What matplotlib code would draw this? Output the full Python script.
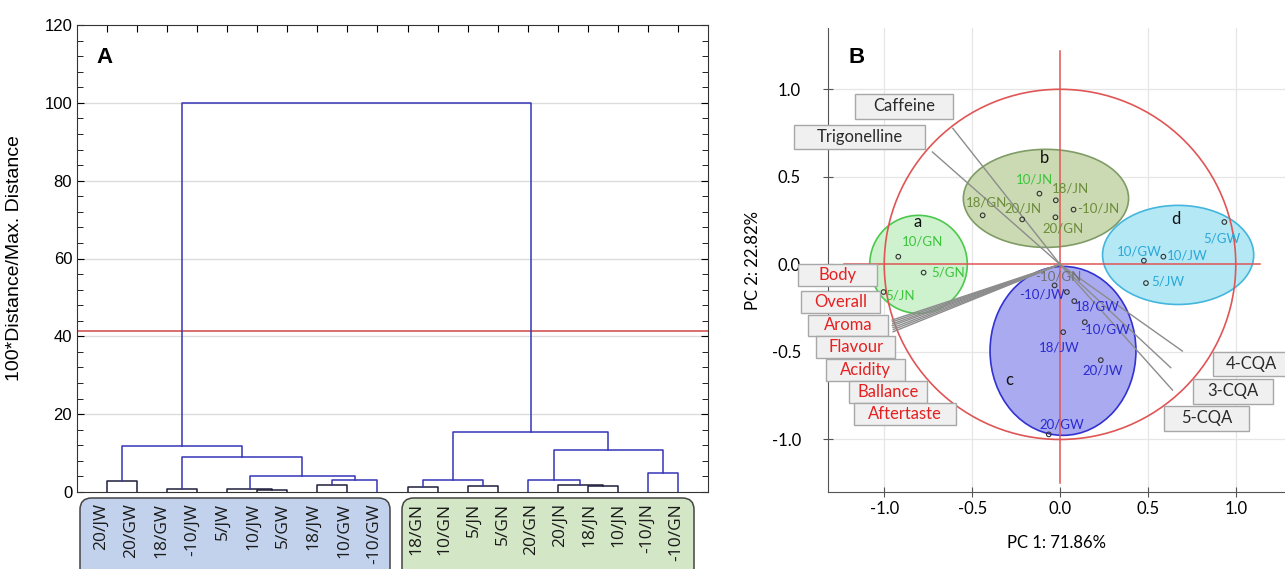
import matplotlib
matplotlib.use("Agg")
import matplotlib.pyplot as plt
from matplotlib.patches import Ellipse, Circle, Rectangle, FancyBboxPatch
import matplotlib.transforms as mtransforms
import numpy as np

# ---------------- data: panel A (dendrogram) ----------------
leaf_labels = ["20/JW", "20/GW", "18/GW", "-10/JW", "5/JW", "10/JW", "5/GW", "18/JW", "10/GW", "-10/GW",
               "18/GN", "10/GN", "5/JN", "5/GN", "20/GN", "20/JN", "18/JN", "10/JN", "-10/JN", "-10/GN"]
# merges: (child a, child b, height); children < 20 are leaves, >= 20 earlier merges
merges = [
    (0, 1, 2.7), (2, 3, 0.8), (5, 6, 0.5), (4, 22, 0.8), (7, 8, 1.7), (24, 9, 3.2),
    (23, 25, 4.0), (21, 26, 9.1), (20, 27, 11.7),
    (10, 11, 1.4), (12, 13, 1.6), (29, 30, 3.2), (16, 17, 1.6), (15, 32, 1.8),
    (14, 33, 3.1), (18, 19, 4.8), (34, 35, 10.9), (31, 36, 15.5),
    (28, 37, 100.0),
]
cut_height = 41.3

# ---------------- data: panel B (PCA biplot) ----------------
score_groups = ["a", "b", "c", "d"]
score_names = {
    "a": ["10/GN", "5/GN", "5/JN"],
    "b": ["18/GN", "20/JN", "10/JN", "18/JN", "-10/JN", "20/GN"],
    "c": ["-10/GN", "-10/JW", "18/GW", "-10/GW", "18/JW", "20/JW", "20/GW"],
    "d": ["5/GW", "10/GW", "10/JW", "5/JW"],
}
score_pc1 = {
    "a": [-0.92, -0.776, -1.004],
    "b": [-0.44, -0.215, -0.117, -0.024, 0.077, -0.026],
    "c": [-0.031, 0.039, 0.081, 0.141, 0.018, 0.232, -0.064],
    "d": [0.935, 0.477, 0.588, 0.489],
}
score_pc2 = {
    "a": [0.044, -0.047, -0.158],
    "b": [0.28, 0.257, 0.404, 0.366, 0.313, 0.269],
    "c": [-0.12, -0.158, -0.21, -0.33, -0.387, -0.547, -0.971],
    "d": [0.242, 0.021, 0.044, -0.107],
}
# group ellipses: centre, full width, full height
ell_center = {"a": (-0.805, 0.0), "b": (-0.08, 0.377), "c": (0.017, -0.494), "d": (0.672, 0.054)}
ell_size = {"a": (0.555, 0.56), "b": (0.94, 0.56), "c": (0.83, 0.965), "d": (0.86, 0.566)}

loading_names = ["Caffeine", "Trigonelline", "Body", "Overall", "Aroma", "Flavour", "Acidity",
                 "Ballance", "Aftertaste", "4-CQA", "3-CQA", "5-CQA"]
loading_pc1 = [-0.61, -0.726, -0.955, -0.953, -0.952, -0.954, -0.95, -0.948, -0.95, 0.696, 0.63, 0.64]
loading_pc2 = [0.777, 0.642, -0.318, -0.328, -0.339, -0.35, -0.361, -0.372, -0.385, -0.495, -0.59, -0.718]
sensory = ["Body", "Overall", "Aroma", "Flavour", "Acidity", "Ballance", "Aftertaste"]

# ---------------- layout / styles ----------------
FW, FH = 1285, 569
fig = plt.figure(figsize=(FW / 100, FH / 100), dpi=100)

# ======== Panel A ========
axA = fig.add_axes([77 / FW, 1 - 492 / FH, 631 / FW, 467 / FH])
pos = {i: i + 1.0 for i in range(len(leaf_labels))}
hgt = {i: 0.0 for i in range(len(leaf_labels))}
blue = "#3636b8"
for k, (a, b, h) in enumerate(merges):
    col = "#1e1e3c" if h < 3 else blue
    xa, xb = pos[a], pos[b]
    axA.plot([xa, xa, xb, xb], [hgt[a], h, h, hgt[b]], color=col, lw=1.1, zorder=3)
    pos[20 + k] = (xa + xb) / 2
    hgt[20 + k] = h

axA.axhline(cut_height, color="#d04545", lw=1.1, zorder=2)
axA.set_xlim(0, len(leaf_labels) + 1)
axA.set_ylim(0, 120)
axA.set_yticks(np.arange(0, 121, 20))
axA.set_yticks(np.arange(0, 121, 4), minor=True)
for g in range(20, 101, 20):
    axA.axhline(g, color="#dcdcdc", lw=1.0, zorder=1)
axA.tick_params(axis="y", which="both", direction="in", right=True, labelsize=12, length=4)
axA.tick_params(axis="y", which="major", length=5)
axA.set_xticks(np.arange(1, len(leaf_labels) + 1))
axA.tick_params(axis="x", which="both", direction="in", top=True, bottom=False,
                labelbottom=False, length=5)
for sp in axA.spines.values():
    sp.set_color("#333333")
for lab in axA.get_yticklabels():
    lab.set_fontfamily("Liberation Sans")
axA.set_ylabel("100*Distance/Max. Distance", fontsize=14, family="Liberation Sans")
axA.yaxis.set_label_coords(-0.085, 0.5)
axA.text(0.044, 0.93, "A", transform=axA.transAxes, fontsize=16, fontweight="bold",
         family="Liberation Sans", va="center", ha="center")

# cluster boxes under the leaves
for x0, x1, fc in [(80, 390, "#c3d2ec"), (402, 694, "#d3e6c6")]:
    box = FancyBboxPatch((x0 / FW, 1 - 590 / FH), (x1 - x0) / FW, 92 / FH,
                         boxstyle="round,pad=0,rounding_size=0.009", mutation_aspect=FW / FH,
                         transform=fig.transFigure, facecolor=fc, edgecolor="#444444",
                         lw=1.1, zorder=-1)
    fig.patches.append(box)
# labels are spread evenly inside each box
label_x = np.concatenate([np.linspace(0.8, 9.9, 10), np.linspace(11.28, 19.93, 10)])
trans = mtransforms.blended_transform_factory(axA.transData, axA.transAxes)
for lx, lab in zip(label_x, leaf_labels):
    axA.text(lx, -0.024, lab, transform=trans, rotation=90, ha="center", va="top",
             fontsize=12.5, family="Open Sans", color="#1a1a1a", clip_on=False)

# ======== Panel B ========
axB = fig.add_axes([828 / FW, 1 - 492 / FH, (FW - 828) / FW, 464 / FH])
axB.set_xlim(-1.32, 1.28)
axB.set_ylim(-1.30, 1.35)
for sp in ["top", "right"]:
    axB.spines[sp].set_visible(False)
for sp in ["left", "bottom"]:
    axB.spines[sp].set_color("#555555")
ticks = [-1.0, -0.5, 0.0, 0.5, 1.0]
axB.set_xticks(ticks)
axB.set_yticks(ticks)
axB.set_xticklabels([f"{t:.1f}" for t in ticks])
axB.set_yticklabels([f"{t:.1f}" for t in ticks])
axB.tick_params(direction="inout", length=7, labelsize=12, color="#555555")
axB.tick_params(axis="x", pad=3)
axB.tick_params(axis="y", pad=16)
for lab in axB.get_xticklabels() + axB.get_yticklabels():
    lab.set_fontfamily("Lato")
for t in [-1.0, -0.5, 0.5, 1.0]:
    axB.axvline(t, color="#e6e6e6", lw=0.9, zorder=0)
    axB.axhline(t, color="#e6e6e6", lw=0.9, zorder=0)
axB.set_xlabel("PC 1: 71.86%", fontsize=12, family="Lato", labelpad=13)
axB.set_ylabel("PC 2: 22.82%", fontsize=12, family="Lato", labelpad=8)

ell_face = {"a": "#cdf2cd", "b": "#ccdab3", "c": "#aaaaf0", "d": "#b4e8f5"}
ell_edge = {"a": "#4cc84c", "b": "#7f9c66", "c": "#3232d2", "d": "#44b6de"}
txt_col = {"a": "#3cc43c", "b": "#6b8c3a", "c": "#2a2ad0", "d": "#2aa8d8"}
for g in score_groups:
    w, h = ell_size[g]
    axB.add_patch(Ellipse(ell_center[g], w, h, facecolor=ell_face[g], edgecolor=ell_edge[g],
                          lw=1.2, zorder=1))

axB.add_patch(Circle((0, 0), 1.0, facecolor="none", edgecolor="#e05555", lw=1.2, zorder=2))
axB.plot([-1.23, 1.14], [0, 0], color="#e05555", lw=1.1, zorder=2)
axB.plot([0, 0], [-1.25, 1.22], color="#e05555", lw=1.1, zorder=2)

for x, y in zip(loading_pc1, loading_pc2):
    axB.plot([0, x], [0, y], color="#8c8c8c", lw=1.0, zorder=3)

# label offsets in pixels (layout only)
label_off = {
    "a": [(24, 15), (25, 0), (17, -3)],
    "b": [(4, 13), (1, 11), (-5, 14), (15, 12), (25, 1), (8, -11)],
    "c": [(4, 9), (-25, -2), (23, -5), (20, -7), (-4, -15), (2, -10), (13, 10)],
    "d": [(-2, -16), (-5, 9), (24, 1), (22, 2)],
}
for g in score_groups:
    axB.scatter(score_pc1[g], score_pc2[g], s=11, facecolor="none", edgecolor="#333333",
                lw=0.8, zorder=4)
    for name, x, y, off in zip(score_names[g], score_pc1[g], score_pc2[g], label_off[g]):
        col = txt_col[g]
        if name == "10/JN":
            col = "#3cc43c"
        if name == "-10/GN":
            col = "#707070"
        axB.annotate(name, (x, y), xytext=off, textcoords="offset pixels", ha="center",
                     va="center", fontsize=9.5, family="Lato", color=col, zorder=5)

grp_letter_pos = {"a": (-0.81, 0.24), "b": (-0.09, 0.606), "c": (-0.29, -0.66), "d": (0.66, 0.257)}
for g in score_groups:
    axB.text(*grp_letter_pos[g], g, fontsize=12, family="Lato", ha="center", va="center",
             color="#111111", zorder=5)

# loading label boxes: centre x, centre y, width (layout)
box_layout = [(-0.886, 0.903, 0.558), (-1.14, 0.728, 0.747), (-1.265, -0.063, 0.45),
              (-1.248, -0.214, 0.45), (-1.205, -0.349, 0.455), (-1.162, -0.471, 0.45),
              (-1.105, -0.603, 0.45), (-0.977, -0.731, 0.445), (-0.88, -0.854, 0.58),
              (1.09, -0.569, 0.44), (0.983, -0.726, 0.456), (0.832, -0.88, 0.484)]
for name, (cx, cy, bw) in zip(loading_names, box_layout):
    bh = 0.14 if name in ("Caffeine", "Trigonelline", "4-CQA", "3-CQA", "5-CQA") else 0.125
    axB.add_patch(Rectangle((cx - bw / 2, cy - bh / 2), bw, bh, facecolor="#f0f0f0",
                            edgecolor="#a8a8a8", lw=1.0, zorder=6, clip_on=False))
    col = "#e62020" if name in sensory else "#2a2a2a"
    axB.text(cx, cy, name, ha="center", va="center", fontsize=12, family="Lato", color=col,
             zorder=7, clip_on=False)

fig.text(857 / FW, 1 - 57 / FH, "B", fontsize=16, fontweight="bold", family="Liberation Sans",
         ha="center", va="center")

fig.savefig("out.png", dpi=100)
